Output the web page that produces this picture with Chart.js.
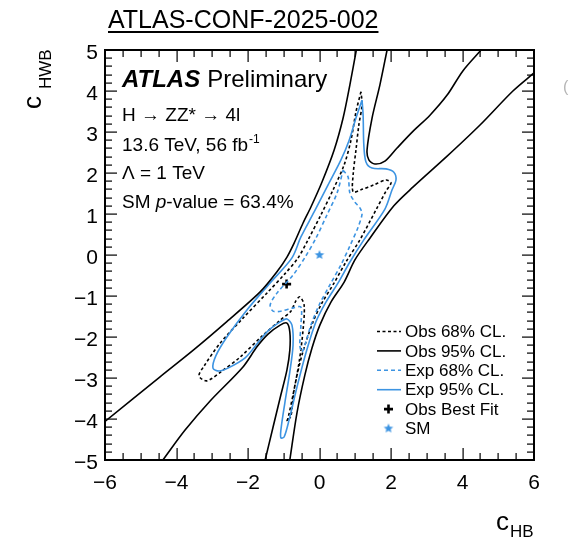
<!DOCTYPE html>
<html>
<head>
<meta charset="utf-8">
<script src="https://cdn.jsdelivr.net/npm/chart.js@4"></script>
</head>
<body style="margin:0">
<canvas id="myChart" width="573" height="540"></canvas>
<script>
// axis ticks
const xTicks = [-6, -4, -2, 0, 2, 4, 6];
const yTicks = [-5, -4, -3, -2, -1, 0, 1, 2, 3, 4, 5];

// Obs 95% CL. : four open branches, [cHB, cHWB]
const obs95UpperLeft = [[-6.00,-4.06],[-4.46,-2.97],[-3.53,-2.32],[-2.60,-1.63],[-1.66,-0.90],[-1.19,-0.41],[-0.91,-0.05],[-0.71,0.29],[-0.46,0.78],[-0.24,1.17],[0.07,1.78],[0.41,2.56],[0.66,3.34],[0.85,4.15],[1.03,5.00]];
const obs95UpperRight = [[1.89,5.00],[1.69,4.15],[1.47,3.34],[1.33,2.56],[1.38,2.32],[1.55,2.22],[1.83,2.29],[2.17,2.61],[2.62,3.02],[3.09,3.41],[3.57,3.90],[4.01,4.49],[4.52,5.00]];
const obs95LowerRight = [[6.00,4.44],[5.41,4.00],[4.49,3.17],[3.57,2.41],[2.62,1.66],[2.08,1.20],[1.41,0.41],[0.99,-0.12],[0.69,-0.66],[0.32,-1.15],[0.01,-1.71],[-0.21,-2.27],[-0.41,-2.93],[-0.63,-3.85],[-0.83,-5.00]];
const obs95LowerLeft = [[-4.38,-5.00],[-3.76,-4.27],[-3.06,-3.56],[-2.14,-2.73],[-1.75,-2.24],[-1.44,-1.93],[-1.10,-1.71],[-0.91,-1.66],[-0.83,-1.88],[-0.83,-2.32],[-0.91,-2.80],[-1.08,-3.41],[-1.30,-4.20],[-1.52,-5.00]];

// Obs 68% CL. (closed)
const obs68 = [[1.16,3.98],[1.02,3.49],[0.88,2.80],[0.69,2.20],[0.38,1.59],[0.04,0.98],[-0.32,0.37],[-0.60,-0.07],[-0.97,-0.46],[-1.44,-0.90],[-2.14,-1.54],[-2.78,-2.15],[-3.23,-2.71],[-3.37,-2.95],[-3.15,-3.07],[-2.73,-2.83],[-2.22,-2.49],[-1.61,-1.98],[-1.10,-1.59],[-0.80,-1.37],[-0.66,-1.12],[-0.55,-1.02],[-0.43,-1.22],[-0.46,-1.83],[-0.57,-2.61],[-0.74,-3.41],[-0.88,-3.98],[-0.91,-4.05],[-0.80,-3.93],[-0.71,-3.29],[-0.49,-2.44],[-0.18,-1.63],[0.07,-1.17],[0.41,-0.68],[0.74,-0.17],[1.13,0.37],[1.58,1.10],[1.86,1.56],[2.00,1.76],[1.86,1.83],[1.52,1.71],[1.16,1.59],[0.94,1.54],[0.94,1.95],[1.02,2.56],[1.10,3.17],[1.19,3.66]];

// Exp 68% CL. (closed)
const exp68 = [[0.66,2.07],[0.80,1.90],[0.85,1.51],[0.99,1.29],[1.13,1.15],[1.19,1.00],[1.08,0.68],[0.85,0.22],[0.60,-0.24],[0.29,-0.73],[-0.01,-1.22],[-0.24,-1.71],[-0.38,-2.12],[-0.49,-2.37],[-0.55,-2.20],[-0.52,-1.71],[-0.52,-1.27],[-0.74,-1.29],[-1.08,-1.37],[-1.30,-1.37],[-1.38,-1.22],[-1.19,-0.93],[-0.74,-0.49],[-0.38,-0.02],[-0.10,0.41],[0.21,0.98],[0.49,1.51]];

// Exp 95% CL. (closed)
const exp95 = [[1.19,3.78],[1.02,3.34],[0.83,2.80],[0.60,2.32],[0.24,1.71],[-0.15,1.05],[-0.52,0.44],[-0.77,-0.07],[-1.38,-0.68],[-2.03,-1.34],[-2.59,-2.00],[-2.90,-2.46],[-2.98,-2.76],[-2.81,-2.83],[-2.56,-2.76],[-2.08,-2.51],[-1.78,-2.20],[-1.44,-1.85],[-1.10,-1.63],[-0.91,-1.56],[-0.77,-1.71],[-0.74,-2.20],[-0.83,-2.85],[-0.97,-3.61],[-1.08,-4.27],[-1.08,-4.46],[-0.99,-4.44],[-0.85,-4.02],[-0.63,-3.22],[-0.38,-2.39],[-0.10,-1.63],[0.18,-1.15],[0.52,-0.68],[0.85,-0.17],[1.24,0.37],[1.83,1.12],[2.03,1.59],[2.14,1.83],[2.08,2.02],[1.86,2.10],[1.47,2.12],[1.30,2.27],[1.24,2.68],[1.22,3.41]];

const bestFit = [[-0.92, -0.71]];
const smPoint = [[0, 0]];

const FONT = '"Liberation Sans", Arial, Helvetica, sans-serif';
const BLUE = '#3d94e2';

function fmt(v) {
  return v < 0 ? '\u2212' + Math.abs(v) : String(v);
}

function starImage(color, r) {
  const c = document.createElement('canvas');
  c.width = c.height = 2 * r + 2;
  const g = c.getContext('2d');
  g.fillStyle = color;
  g.beginPath();
  for (let i = 0; i < 10; i++) {
    const rr = i % 2 ? r * 0.45 : r;
    const a = -Math.PI / 2 + i * Math.PI / 5;
    g.lineTo(r + 1 + rr * Math.cos(a), r + 1 + rr * Math.sin(a));
  }
  g.closePath();
  g.fill();
  return c;
}
const starImg = starImage(BLUE, 5);

function curve(label, pts, color, dash, closed) {
  const p = closed ? pts.concat([pts[0]]) : pts;
  return {
    label: label,
    data: p.map(q => ({x: q[0], y: q[1]})),
    showLine: true,
    borderColor: color,
    borderWidth: 1.6,
    borderDash: dash,
    pointRadius: 0,
    fill: false,
    tension: 0.3
  };
}

const datasets = [
  curve('Obs 95% CL.', obs95UpperLeft, '#000', [], false),
  curve('', obs95UpperRight, '#000', [], false),
  curve('', obs95LowerRight, '#000', [], false),
  curve('', obs95LowerLeft, '#000', [], false),
  curve('Exp 95% CL.', exp95, BLUE, [], true),
  curve('Exp 68% CL.', exp68, BLUE, [4, 3], true),
  curve('Obs 68% CL.', obs68, '#000', [3, 2.5], true),
  {
    label: 'Obs Best Fit',
    data: bestFit.map(q => ({x: q[0], y: q[1]})),
    pointStyle: 'cross',
    pointRadius: 4.5,
    borderWidth: 2.6,
    borderColor: '#000',
    backgroundColor: '#000'
  },
  {
    label: 'SM',
    data: smPoint.map(q => ({x: q[0], y: q[1]})),
    pointStyle: starImg,
    pointRadius: 5
  }
];

// frame with inward major and minor ticks on all four sides (ROOT style)
function drawFrame(chart) {
  const g = chart.ctx;
  const xs = chart.scales.x, ys = chart.scales.y;
  const L = Math.round(xs.left), R = Math.round(xs.right);
  const T = Math.round(ys.top), B = Math.round(ys.bottom);
  g.save();
  g.fillStyle = '#000';
  g.fillRect(L - 1, T - 1, R - L + 2, 2);
  g.fillRect(L - 1, B - 1, R - L + 2, 2);
  g.fillRect(L - 1, T - 1, 2, B - T + 2);
  g.fillRect(R - 1, T - 1, 2, B - T + 2);
  for (let i = 0; i <= 24; i++) {
    const px = Math.round(xs.getPixelForValue(xTicks[0] + i * 0.5));
    const len = i % 4 === 0 ? 12 : 7;
    g.fillRect(px - 0.5, B - len, 1.2, len);
    g.fillRect(px - 0.5, T, 1.2, len);
  }
  for (let i = 0; i <= 50; i++) {
    const py = Math.round(ys.getPixelForValue(yTicks[0] + i * 0.2));
    const len = i % 5 === 0 ? 12 : 7;
    g.fillRect(L, py - 0.5, len, 1.2);
    g.fillRect(R - len, py - 0.5, len, 1.2);
  }
  g.restore();
}

function drawTexts(chart) {
  const g = chart.ctx;
  g.save();
  g.fillStyle = '#000';
  g.textBaseline = 'alphabetic';
  g.textAlign = 'left';

  g.font = '25px ' + FONT;
  const title = 'ATLAS-CONF-2025-002';
  g.fillText(title, 108, 28);
  g.fillRect(108, 31, g.measureText(title).width, 2);

  g.font = 'italic bold 24px ' + FONT;
  g.fillText('ATLAS', 122, 87);
  const w1 = g.measureText('ATLAS').width;
  g.font = '24px ' + FONT;
  g.fillText('Preliminary', 122 + w1 + 7, 87);

  g.font = '19px ' + FONT;
  g.fillText('H \u2192 ZZ* \u2192 4l', 122, 121);
  const t2 = '13.6 TeV, 56 fb';
  g.fillText(t2, 122, 151);
  const w2 = g.measureText(t2).width;
  g.font = '12px ' + FONT;
  g.fillText('-1', 122 + w2 + 1, 143);
  g.font = '19px ' + FONT;
  g.fillText('\u039B = 1 TeV', 122, 179);
  g.fillText('SM ', 122, 208);
  let cx = 122 + g.measureText('SM ').width;
  g.font = 'italic 19px ' + FONT;
  g.fillText('p', cx, 208);
  cx += g.measureText('p').width;
  g.font = '19px ' + FONT;
  g.fillText('-value = 63.4%', cx, 208);

  // legend
  const rows = [
    ['Obs 68% CL.', 'line', '#000', [3, 2.5]],
    ['Obs 95% CL.', 'line', '#000', []],
    ['Exp 68% CL.', 'line', BLUE, [4, 3]],
    ['Exp 95% CL.', 'line', BLUE, []],
    ['Obs Best Fit', 'cross', '#000', []],
    ['SM', 'star', BLUE, []]
  ];
  g.font = '17px ' + FONT;
  g.textBaseline = 'middle';
  rows.forEach((r, i) => {
    const yy = 331.5 + i * 19.4;
    if (r[1] === 'line') {
      g.strokeStyle = r[2];
      g.lineWidth = 1.6;
      g.setLineDash(r[3]);
      g.beginPath();
      g.moveTo(377, yy); g.lineTo(401, yy);
      g.stroke();
      g.setLineDash([]);
    } else if (r[1] === 'cross') {
      g.strokeStyle = '#000';
      g.lineWidth = 2.6;
      g.beginPath();
      g.moveTo(384, yy); g.lineTo(393, yy);
      g.moveTo(388.5, yy - 4.5); g.lineTo(388.5, yy + 4.5);
      g.stroke();
    } else {
      g.drawImage(starImg, 388.5 - 6, yy - 6);
    }
    g.fillStyle = '#000';
    g.fillText(r[0], 405, yy + 1);
  });

  // axis titles
  g.textBaseline = 'alphabetic';
  g.font = '26px ' + FONT;
  g.fillText('c', 496, 530);
  g.font = '17px ' + FONT;
  g.fillText('HB', 510, 537);

  g.save();
  g.translate(41, 109);
  g.rotate(-Math.PI / 2);
  g.font = '26px ' + FONT;
  g.fillText('c', 0, 0);
  g.font = '17px ' + FONT;
  g.fillText('HWB', 20, 10);
  g.restore();

  // clipped glyph at the right edge of the source image
  g.fillStyle = '#b5b5b5';
  g.font = '16px ' + FONT;
  g.fillText('(', 563, 92);
  g.restore();
}

const atlasDecor = {
  id: 'atlasDecor',
  afterDraw(chart) {
    drawFrame(chart);
    drawTexts(chart);
  }
};

const ctx = document.getElementById('myChart').getContext('2d');
const myChart = new Chart(ctx, {
  type: 'scatter',
  data: { datasets: datasets },
  options: {
    responsive: false,
    animation: false,
    devicePixelRatio: 1,
    layout: { padding: { top: 50, right: 39, left: 0, bottom: 0 } },
    plugins: {
      legend: { display: false },
      tooltip: { enabled: false }
    },
    scales: {
      x: {
        type: 'linear',
        min: -6,
        max: 6,
        afterBuildTicks: s => { s.ticks = xTicks.map(v => ({value: v})); },
        afterFit: s => { s.height = 80; },
        grid: { display: false, drawTicks: false },
        border: { display: false },
        ticks: {
          padding: 11,
          color: '#000',
          autoSkip: false,
          maxRotation: 0,
          font: { family: FONT, size: 21 },
          callback: v => fmt(v)
        }
      },
      y: {
        type: 'linear',
        min: -5,
        max: 5,
        afterBuildTicks: s => { s.ticks = yTicks.map(v => ({value: v})); },
        afterFit: s => { s.width = 105; },
        grid: { display: false, drawTicks: false },
        border: { display: false },
        ticks: {
          padding: 7,
          labelOffset: 3,
          color: '#000',
          autoSkip: false,
          font: { family: FONT, size: 21 },
          callback: v => fmt(v)
        }
      }
    }
  },
  plugins: [atlasDecor]
});
</script>
</body>
</html>
